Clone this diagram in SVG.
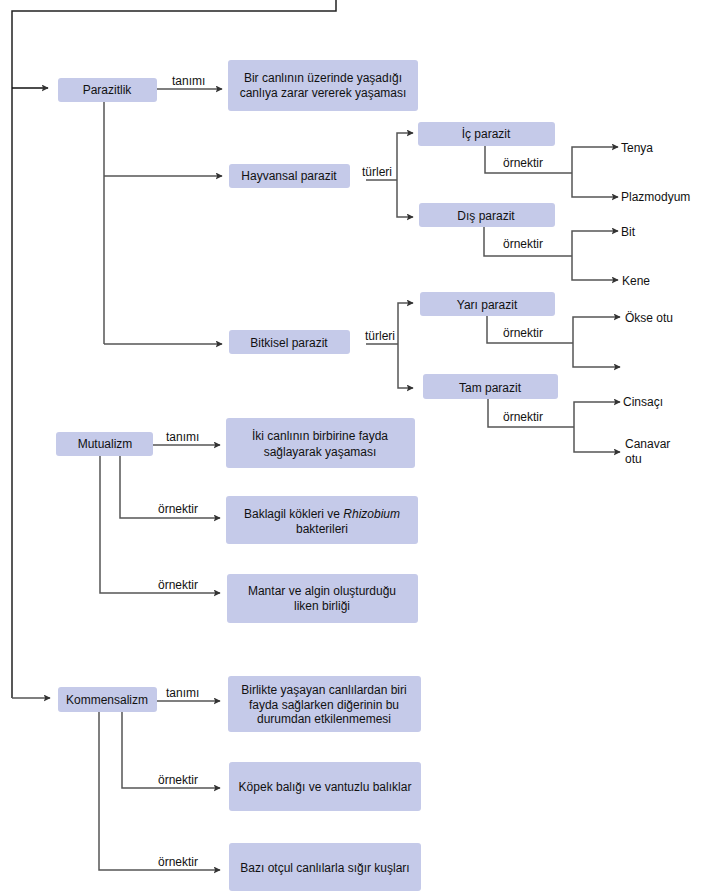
<svg xmlns="http://www.w3.org/2000/svg" width="701" height="893" viewBox="0 0 701 893">
<defs>
<marker id="ah" viewBox="0 0 10 10" refX="9" refY="5" markerWidth="7" markerHeight="7" markerUnits="userSpaceOnUse" orient="auto">
<path d="M0,0 L10,5 L0,10 L2,5 z" fill="#333"/>
</marker>
</defs>
<style>
.box{fill:#c5cae9;rx:3;ry:3}
.t{font-family:"Liberation Sans",Arial,sans-serif;font-size:12px;fill:#111;text-anchor:middle}
.l{font-family:"Liberation Sans",Arial,sans-serif;font-size:12px;fill:#111}
.c{fill:none;stroke:#555;stroke-width:1.5}
.a{fill:none;stroke:#555;stroke-width:1.5;marker-end:url(#ah)}
.k{fill:none;stroke:#222;stroke-width:1.5}
</style>
<rect width="701" height="893" fill="#fff"/>
<g id="connectors">
<polyline class="k" points="336,0 336,11 12,11 12,698"/>
<line class="a" x1="12" y1="88" x2="48" y2="88" style="stroke:#111"/>
<line class="a" x1="12" y1="698" x2="50" y2="698"/>
<line class="a" x1="157" y1="89" x2="222" y2="89"/>
<polyline class="c" points="104,102 104,344"/>
<line class="a" x1="104" y1="176" x2="222" y2="176"/>
<line class="a" x1="104" y1="344" x2="222" y2="344"/>
<line class="c" x1="366" y1="180" x2="397" y2="180"/>
<polyline class="a" points="397,180 397,133 413,133"/>
<polyline class="a" points="397,180 397,217 413,217"/>
<polyline class="c" points="485,146 485,173 572,173"/>
<polyline class="a" points="572,173 572,147 618,147"/>
<polyline class="a" points="572,173 572,197 618,197"/>
<polyline class="c" points="484,227 484,256 572,256"/>
<polyline class="a" points="572,256 572,231 618,231"/>
<polyline class="a" points="572,256 572,280 618,280"/>
<line class="c" x1="366" y1="344" x2="398" y2="344"/>
<polyline class="a" points="398,344 398,303 413,303"/>
<polyline class="a" points="398,344 398,388 413,388"/>
<polyline class="c" points="487,316 487,343 573,343"/>
<polyline class="a" points="573,343 573,317 620,317"/>
<polyline class="a" points="573,343 573,367 620,367"/>
<polyline class="c" points="488,399 488,427 574,427"/>
<polyline class="a" points="574,427 574,402 620,402"/>
<polyline class="a" points="574,427 574,452 620,452"/>
<line class="a" x1="153" y1="445" x2="220" y2="445"/>
<polyline class="a" points="120,456 120,518 220,518"/>
<polyline class="a" points="100,456 100,593 220,593"/>
<line class="a" x1="157" y1="701" x2="220" y2="701"/>
<polyline class="a" points="122,712 122,788 220,788"/>
<polyline class="a" points="99,712 99,870 220,870"/>
</g>
<g id="edge-labels">
<text class="l" x="172" y="85">tanımı</text>
<text class="l" x="362" y="176">türleri</text>
<text class="l" x="503" y="167">örnektir</text>
<text class="l" x="503" y="248">örnektir</text>
<text class="l" x="365" y="340">türleri</text>
<text class="l" x="503" y="337">örnektir</text>
<text class="l" x="503" y="421">örnektir</text>
<text class="l" x="166" y="441">tanımı</text>
<text class="l" x="158" y="513">örnektir</text>
<text class="l" x="158" y="589">örnektir</text>
<text class="l" x="166" y="697">tanımı</text>
<text class="l" x="158" y="784">örnektir</text>
<text class="l" x="158" y="866">örnektir</text>
</g>
<g id="n-parazitlik"><rect class="box" x="58" y="78" width="99" height="24"/><text class="t" x="107" y="94">Parazitlik</text></g>
<g id="n-parazitlik-tanim"><rect class="box" x="228" y="60" width="190" height="51"/><text class="t" x="323" y="82">Bir canlının üzerinde yaşadığı</text><text class="t" x="323" y="97">canlıya zarar vererek yaşaması</text></g>
<g id="n-hayvansal"><rect class="box" x="229" y="164" width="121" height="24"/><text class="t" x="289" y="180">Hayvansal parazit</text></g>
<g id="n-ic"><rect class="box" x="418" y="122" width="137" height="24"/><text class="t" x="486" y="138">İç parazit</text></g>
<g id="n-dis"><rect class="box" x="419" y="203" width="136" height="24"/><text class="t" x="486" y="220">Dış parazit</text></g>
<g id="n-tenya"><text class="l" x="621" y="152">Tenya</text></g>
<g id="n-plazmodyum"><text class="l" x="621" y="201">Plazmodyum</text></g>
<g id="n-bit"><text class="l" x="621" y="236">Bit</text></g>
<g id="n-kene"><text class="l" x="622" y="285">Kene</text></g>
<g id="n-bitkisel"><rect class="box" x="229" y="330" width="121" height="24"/><text class="t" x="289" y="347">Bitkisel parazit</text></g>
<g id="n-yari"><rect class="box" x="420" y="292" width="135" height="24"/><text class="t" x="487" y="309">Yarı parazit</text></g>
<g id="n-tam"><rect class="box" x="423" y="374" width="135" height="25"/><text class="t" x="490" y="392">Tam parazit</text></g>
<g id="n-okse"><text class="l" x="625" y="322">Ökse otu</text></g>
<g id="n-cinsaci"><text class="l" x="623" y="406">Cinsaçı</text></g>
<g id="n-canavar"><text class="l" x="625" y="448">Canavar</text><text class="l" x="625" y="463">otu</text></g>
<g id="n-mutualizm"><rect class="box" x="56" y="432" width="97" height="24"/><text class="t" x="105" y="448">Mutualizm</text></g>
<g id="n-mutualizm-tanim"><rect class="box" x="226" y="418" width="189" height="50"/><text class="t" x="320" y="440">İki canlının birbirine fayda</text><text class="t" x="320" y="456">sağlayarak yaşaması</text></g>
<g id="n-baklagil"><rect class="box" x="226" y="496" width="192" height="48"/><text class="t" x="322" y="518">Baklagil kökleri ve <tspan font-style="italic">Rhizobium</tspan></text><text class="t" x="322" y="533">bakterileri</text></g>
<g id="n-mantar"><rect class="box" x="227" y="574" width="191" height="49"/><text class="t" x="322" y="595">Mantar ve algin oluşturduğu</text><text class="t" x="322" y="610">liken birliği</text></g>
<g id="n-kommensalizm"><rect class="box" x="58" y="687" width="99" height="25"/><text class="t" x="107" y="704">Kommensalizm</text></g>
<g id="n-kommensalizm-tanim"><rect class="box" x="228" y="676" width="193" height="56"/><text class="t" x="324" y="694">Birlikte yaşayan canlılardan biri</text><text class="t" x="324" y="709">fayda sağlarken diğerinin bu</text><text class="t" x="324" y="723">durumdan etkilenmemesi</text></g>
<g id="n-kopek"><rect class="box" x="229" y="762" width="192" height="49"/><text class="t" x="325" y="791">Köpek balığı ve vantuzlu balıklar</text></g>
<g id="n-bazi"><rect class="box" x="229" y="843" width="192" height="48"/><text class="t" x="325" y="872">Bazı otçul canlılarla sığır kuşları</text></g>
</svg>
